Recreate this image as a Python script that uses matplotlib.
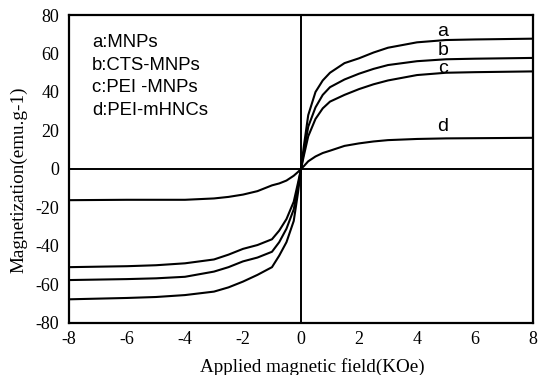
import matplotlib
matplotlib.use("Agg")
import matplotlib.pyplot as plt

plt.rcParams["axes.unicode_minus"] = False

field = [-8, -6, -5, -4, -3, -2.5, -2, -1.5, -1, -0.75, -0.5, -0.25, -0.1, 0,
         0.1, 0.25, 0.5, 0.75, 1, 1.5, 2, 2.5, 3, 4, 5, 6, 8]
mag_a = [-67.7, -67, -66.5, -65.5, -63.7, -61.5, -58.5, -55, -51, -45, -38, -27, -12, 0,
         12, 28, 40, 46, 50, 55, 57.5, 60.5, 63, 65.8, 67, 67.3, 67.7]
mag_b = [-57.7, -57.2, -56.8, -56, -53.3, -51, -48, -46, -43, -38, -31, -21, -9, 0,
         9, 22, 32, 38.5, 42.5, 46.5, 49.5, 52, 54, 56, 57, 57.3, 57.7]
mag_c = [-51, -50.5, -50, -49, -47, -44.5, -41.5, -39.5, -36.5, -32, -26, -17, -7, 0,
         7, 17, 26, 31.5, 35, 38.5, 41.5, 44, 46, 48.8, 50, 50.3, 50.7]
mag_d = [-16.2, -16, -16, -16, -15.3, -14.5, -13.3, -11.5, -8.5, -7.5, -6, -3.5, -1.5, 0,
         1.5, 4, 6.5, 8.3, 9.5, 12, 13.3, 14.3, 15, 15.6, 15.9, 16, 16.2]
curve_labels = ["a", "b", "c", "d"]
label_pos = [(4.9, 71.3), (4.9, 61.5), (4.9, 52.3), (4.9, 22)]
legend_lines = ["a:MNPs", "b:CTS-MNPs", "c:PEI -MNPs", "d:PEI-mHNCs"]
legend_y = [65.6, 54, 42.4, 30.6]
xticks = [-8, -6, -4, -2, 0, 2, 4, 6, 8]
yticks = [-80, -60, -40, -20, 0, 20, 40, 60, 80]

fig = plt.figure(figsize=(5.43, 3.75), dpi=100)
ax = fig.add_axes([0.127, 0.1387, 0.8546, 0.8213])
for m in [mag_a, mag_b, mag_c, mag_d]:
    ax.plot(field, m, color="black", lw=1.5, solid_joinstyle="round")
ax.axhline(0, color="black", lw=1.4)
ax.axvline(0, color="black", lw=1.4)
ax.set_xlim(-8, 8)
ax.set_ylim(-80, 80)
ax.set_xticks(xticks)
ax.set_yticks(yticks)
ax.tick_params(length=0, labelsize=13)
ax.tick_params(axis="x", pad=6)
ax.tick_params(axis="y", pad=7)
for lab in ax.get_xticklabels() + ax.get_yticklabels():
    lab.set_family("Liberation Serif")
for s in ax.spines.values():
    s.set_linewidth(1.6)
for lbl, (x, y) in zip(curve_labels, label_pos):
    ax.text(x, y, lbl, family="Liberation Sans", fontsize=14, ha="center", va="center")
for t, y in zip(legend_lines, legend_y):
    ax.text(-7.2, y, t, family="Liberation Sans", fontsize=13.3, ha="left", va="center")
ax.set_xlabel("Applied magnetic field(KOe)", family="Liberation Serif", fontsize=13.8)
ax.set_ylabel("Magnetization(emu.g-1)", family="Liberation Serif", fontsize=13.8)
ax.xaxis.set_label_coords(0.524, -0.114)
ax.yaxis.set_label_coords(-0.09, 0.464)
fig.savefig("out.png", dpi=100)
